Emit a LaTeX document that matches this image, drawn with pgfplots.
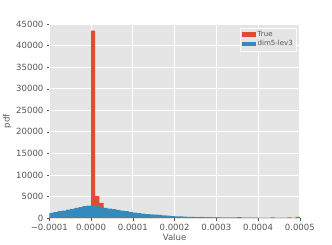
\documentclass[border=0pt]{standalone}
\usepackage{pgfplots}
\pgfplotsset{compat=1.18}
\usepackage{fontspec}
\setmainfont{DejaVu Sans}
\definecolor{ggbg}{HTML}{E5E5E5}
\definecolor{ggred}{HTML}{E24A33}
\definecolor{ggblue}{HTML}{348ABD}
\definecolor{ticktxt}{HTML}{555555}
\begin{document}
\begin{tikzpicture}
\begin{axis}[
  scale only axis,
  width=257bp, height=199bp,
  xmin=-0.0001, xmax=0.0005,
  ymin=0, ymax=45000,
  scaled ticks=false,
  axis background/.style={fill=ggbg},
  axis line style={draw=none},
  grid=major,
  grid style={white, line width=0.8pt},
  tick align=outside,
  major tick length=2.5bp,
  tick style={ticktxt, line width=0.5pt},
  xtick pos=left, ytick pos=left,
  xtick={-0.0001,0,0.0001,0.0002,0.0003,0.0004,0.0005},
  xticklabels={−0.0001,0.0000,0.0001,0.0002,0.0003,0.0004,0.0005},
  ytick={0,5000,10000,15000,20000,25000,30000,35000,40000,45000},
  yticklabels={0,5000,10000,15000,20000,25000,30000,35000,40000,45000},
  ticklabel style={font=\fontsize{8.8}{10}\selectfont, text=ticktxt},
  /pgf/number format/assume math mode=true,
  xlabel={Value}, ylabel={pdf},
  label style={font=\fontsize{8.8}{10}\selectfont, text=ticktxt},
  xlabel style={yshift=3bp},
  ylabel style={yshift=-2bp},
  legend style={at={(0.986,0.982)}, anchor=north east, fill=ggbg, draw=white!80!ggbg,
    font=\fontsize{7.2}{8}\selectfont, text=ticktxt, inner sep=1.5pt, row sep=-1pt},
  legend cell align=left,
  legend image code/.code={\fill[#1] (0bp,-2.5bp) rectangle (14bp,2.5bp);},
]
\addplot[ybar interval, fill=ggred, draw=none] coordinates {
(-0.00010,300) (-0.00009,300) (-0.00008,300) (-0.00007,300) (-0.00006,300)
(-0.00005,300) (-0.00004,300) (-0.00003,300) (-0.00002,300) (-0.00001,300)
(0.00000,43500) (0.00001,5100) (0.00002,3500) (0.00003,1500) (0.00004,1200)
(0.00005,1000) (0.00006,900) (0.00007,800) (0.00008,700) (0.00009,600)
(0.00010,550) (0.00011,500) (0.00012,450) (0.00013,400) (0.00014,380)
(0.00015,350) (0.00016,320) (0.00017,300) (0.00018,280) (0.00019,260)
(0.00020,240) (0.00021,220) (0.00022,200) (0.00023,190) (0.00024,180)
(0.00025,170) (0.00026,300) (0.00027,150) (0.00028,140) (0.00029,130)
(0.00030,120) (0.00031,110) (0.00032,100) (0.00033,90) (0.00034,80)
(0.00035,220) (0.00036,70) (0.00037,65) (0.00038,60) (0.00039,55)
(0.00040,50) (0.00041,50) (0.00042,50) (0.00043,180) (0.00044,50)
(0.00045,50) (0.00046,50) (0.00047,160) (0.00048,50) (0.00049,280)
(0.00050,280)
};
\addlegendentry{True}
\addplot[ybar interval, fill=ggblue, draw=none] coordinates {
(-0.00010,1200) (-0.00009,1400) (-0.00008,1600) (-0.00007,1750) (-0.00006,1950)
(-0.00005,2150) (-0.00004,2350) (-0.00003,2550) (-0.00002,2800) (-0.00001,2900)
(0.00000,2850) (0.00001,2750) (0.00002,2550) (0.00003,2350) (0.00004,2200)
(0.00005,2050) (0.00006,1900) (0.00007,1750) (0.00008,1600) (0.00009,1450)
(0.00010,1250) (0.00011,1130) (0.00012,1020) (0.00013,930) (0.00014,860)
(0.00015,800) (0.00016,720) (0.00017,640) (0.00018,560) (0.00019,480)
(0.00020,420) (0.00021,370) (0.00022,330) (0.00023,290) (0.00024,260)
(0.00025,230) (0.00026,210) (0.00027,190) (0.00028,170) (0.00029,155)
(0.00030,140) (0.00031,130) (0.00032,120) (0.00033,110) (0.00034,105)
(0.00035,100) (0.00036,95) (0.00037,90) (0.00038,85) (0.00039,80)
(0.00040,75) (0.00041,72) (0.00042,70) (0.00043,67) (0.00044,64)
(0.00045,61) (0.00046,58) (0.00047,55) (0.00048,52) (0.00049,50)
(0.00050,50)
};
\addlegendentry{dim5-lev3}
\end{axis}
\path (current axis.south west) ++(-42bp,-25.3bp) coordinate (bbA);
\path (current axis.north east) ++(33bp,24.7bp) coordinate (bbB);
\path (bbA) rectangle (bbB);
\end{tikzpicture}
\end{document}
